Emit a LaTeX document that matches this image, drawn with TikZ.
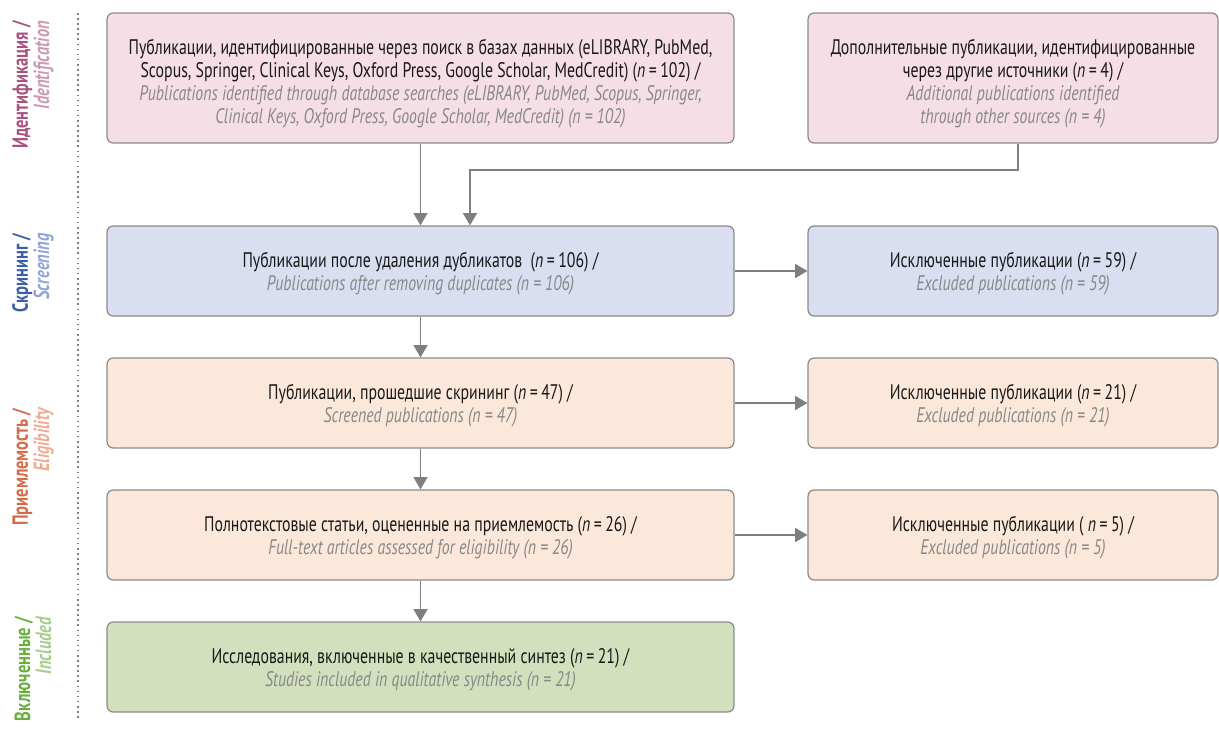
\documentclass[tikz,border=0pt]{standalone}
\usepackage{fontspec}
\setmainfont{PT Sans}[FakeStretch=0.75]
\usetikzlibrary{arrows.meta}
\definecolor{pinkfill}{HTML}{F5DEE6}
\definecolor{bluefill}{HTML}{D9DEF0}
\definecolor{orangefill}{HTML}{FCE8DA}
\definecolor{greenfill}{HTML}{D3E0BE}
\definecolor{bordergray}{HTML}{8A8A8A}
\definecolor{arrowgray}{HTML}{7F7F7F}
\definecolor{engray}{HTML}{888888}
\definecolor{identA}{HTML}{A8527E}
\definecolor{identB}{HTML}{CB9BB1}
\definecolor{screenA}{HTML}{3D5DA6}
\definecolor{screenB}{HTML}{91A4D8}
\definecolor{eligA}{HTML}{D66B4B}
\definecolor{eligB}{HTML}{EDAC95}
\definecolor{inclA}{HTML}{6AAE3F}
\definecolor{inclB}{HTML}{A7CD8B}
\newcommand{\en}[1]{{\color{engray}\itshape #1}}
\newcommand{\nn}[1]{(\textit{n}\,=\,#1)}
\newcommand{\topstrut}[1]{\rule{0pt}{#1}}
\begin{document}
\begin{tikzpicture}[x=0.02cm,y=-0.02cm,
  box/.style={draw=bordergray, line width=0.7pt, rounded corners=3.5pt, align=center, inner sep=0pt,
    font=\fontsize{12}{13.2}\selectfont, text=black!90},
  leftbox/.style={box, minimum width=12.54cm, minimum height=1.8cm},
  rightbox/.style={box, minimum width=8.2cm, minimum height=1.8cm},
  arr/.style={draw=arrowgray, line width=0.85pt, -{Triangle[width=8pt,length=7pt]}},
  stage/.style={rotate=90, align=right, inner sep=0pt, font=\fontsize{12.5}{12}\selectfont}
]
\useasboundingbox (0,0) rectangle (1219,728);

% stage labels
\node[stage] (lid) at (33,85) {{\color{identA}\bfseries Идентификация /}\\{\color{identB}\bfseries\itshape Identification}};
\node[stage] (lsc) at (33,273) {{\color{screenA}\bfseries Скрининг /}\\{\color{screenB}\bfseries\itshape Screening}};
\node[stage] (lel) at (33,467) {{\color{eligA}\bfseries Приемлемость /}\\{\color{eligB}\bfseries\itshape Eligibility}};
\node[stage] (lin) at (33,669) {{\color{inclA}\bfseries Включенные /}\\{\color{inclB}\bfseries\itshape Included}};

% dotted separator
\coordinate (d1) at (78,13);
\coordinate (d2) at (78,720);
\draw[arrowgray, line width=0.9pt, dotted] (d1) -- (d2);

% boxes
\node[box, fill=pinkfill, minimum width=12.54cm, minimum height=2.6cm] (A) at (420.5,78)
  {\topstrut{15pt}Публикации, идентифицированные через поиск в базах данных (eLIBRARY, PubMed,\\
   Scopus, Springer, Clinical Keys, Oxford Press, Google Scholar, MedCredit) \nn{102} /\\
   \en{Publications identified through database searches (eLIBRARY, PubMed, Scopus, Springer,}\\
   \en{Clinical Keys, Oxford Press, Google Scholar, MedCredit) (n = 102)}};
\node[box, fill=pinkfill, minimum width=8.2cm, minimum height=2.6cm] (B) at (1013,78)
  {\topstrut{15pt}Дополнительные публикации, идентифицированные\\
   через другие источники \nn{4} /\\
   \en{Additional publications identified}\\
   \en{through other sources (n = 4)}};

\node[leftbox, fill=bluefill] (S) at (420.5,271)
  {\topstrut{11.5pt}Публикации после удаления дубликатов~ \nn{106} /\\ \en{Publications after removing duplicates (n = 106)}};
\node[rightbox, fill=bluefill] (X1) at (1013,271)
  {\topstrut{11.5pt}Исключенные публикации \nn{59} /\\ \en{Excluded publications (n = 59)}};

\node[leftbox, fill=orangefill] (E1) at (420.5,403)
  {\topstrut{11.5pt}Публикации, прошедшие скрининг \nn{47} /\\ \en{Screened publications (n = 47)}};
\node[rightbox, fill=orangefill] (X2) at (1013,403)
  {\topstrut{11.5pt}Исключенные публикации \nn{21} /\\ \en{Excluded publications (n = 21)}};

\node[leftbox, fill=orangefill] (E2) at (420.5,535)
  {\topstrut{11.5pt}Полнотекстовые статьи, оцененные на приемлемость \nn{26} /\\ \en{Full-text articles assessed for eligibility (n = 26)}};
\node[rightbox, fill=orangefill] (X3) at (1013,535)
  {\topstrut{11.5pt}Исключенные публикации ( \textit{n}\,=\,5) /\\ \en{Excluded publications (n = 5)}};

\node[leftbox, fill=greenfill] (I) at (420.5,667)
  {\topstrut{11.5pt}Исследования, включенные в качественный синтез \nn{21} /\\ \en{Studies included in qualitative synthesis (n = 21)}};

% connectors
\draw[arr] (A.south) -- (S.north);
\coordinate (b1) at (1018,170);
\coordinate (b2) at (470,170);
\draw[arr] (B.south -| b1) -- (b1) -- (b2) -- (S.north -| b2);
\draw[arr] (S.east) -- (X1.west);
\draw[arr] (S.south) -- (E1.north);
\draw[arr] (E1.east) -- (X2.west);
\draw[arr] (E1.south) -- (E2.north);
\draw[arr] (E2.east) -- (X3.west);
\draw[arr] (E2.south) -- (I.north);
\end{tikzpicture}
\end{document}
